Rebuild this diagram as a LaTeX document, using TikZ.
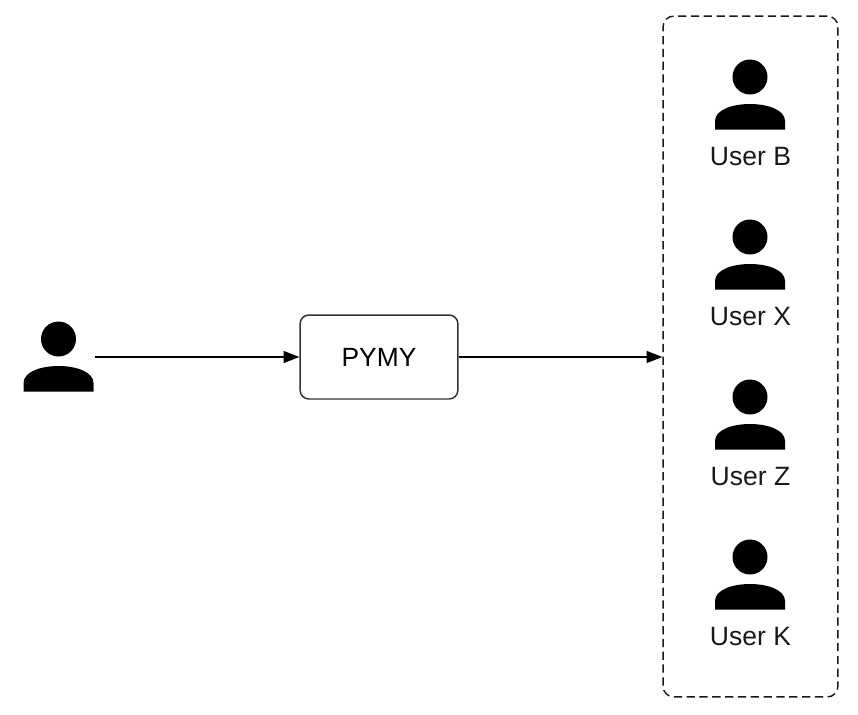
\documentclass[tikz,border=0pt]{standalone}
\usepackage{fontspec}
\setmainfont{Liberation Sans}
\usetikzlibrary{arrows.meta}
\tikzset{
  flow arrow/.style={
    -{Triangle[length=9pt, width=6.8pt]},
    line width=0.8pt,
    color=black
  },
  service box/.style={
    draw=black!80,
    line width=0.85pt,
    rounded corners=5pt,
    minimum width=89.8pt,
    minimum height=47.8pt,
    inner sep=0pt,
    font=\fontsize{15}{18}\selectfont
  },
  group box/.style={
    draw=black!90,
    line width=0.8pt,
    dash pattern=on 4.7pt off 2.6pt,
    rounded corners=6pt,
    minimum width=99.5pt,
    minimum height=387.5pt,
    inner sep=0pt
  },
  user label/.style={
    font=\fontsize{15.1}{18}\selectfont,
    text=black!90,
    inner sep=0pt
  },
  person/.pic={
    \fill[black] (0, 0) circle (17.5);
    \fill[black] (-35, 52.5) -- (-35, 44)
      .. controls (-35, 33) and (-18, 27) .. (0, 27)
      .. controls (18, 27) and (35, 33) .. (35, 44)
      -- (35, 52.5) -- cycle;
  }
}
\begin{document}
\begin{tikzpicture}[x=0.02cm, y=-0.02cm]
    \useasboundingbox (0, 0) rectangle (858, 714);

    % sender
    \pic at (58.5, 339) {person};
    \coordinate (sender) at (95, 357);

    % service
    \node[service box] (pymy) at (379, 357) {PYMY};

    % receivers
    \node[group box] (users) at (750.5, 356.5) {};
    \foreach \name/\y in {B/77, X/237, Z/397, K/557} {
      \pic at (750, \y) {person};
      \node[user label] (user\name) at (750.5, \y+79) {User \name};
    }

    % arrows
    \draw[flow arrow] (sender) -- (pymy.west);
    \draw[flow arrow] (pymy.east) -- (users.west |- pymy.east);
\end{tikzpicture}
\end{document}
